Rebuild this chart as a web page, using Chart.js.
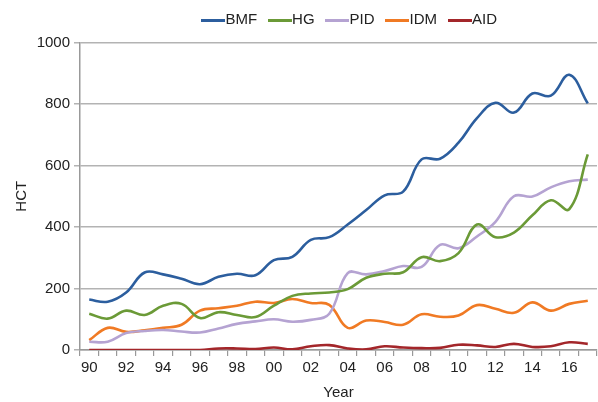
<!DOCTYPE html>
<html><head><meta charset="utf-8">
<script src="https://cdn.jsdelivr.net/npm/chart.js@4.4.1/dist/chart.umd.min.js"></script>
<style>html,body{margin:0;padding:0;background:#fff}#wrap{width:598px;height:402px}</style>
</head><body><div id="wrap"><canvas id="c" width="598" height="402"></canvas></div>
<script>
const years = ['90','91','92','93','94','95','96','97','98','99','00','01','02','03','04','05','06','07','08','09','10','11','12','13','14','15','16','17'];
const BMF = [164,157,187,252,246,232,214,238,248,243,292,303,358,367,408,455,503,515,620,622,674,754,804,772,834,827,895,802];
const HG  = [118,102,128,114,144,150,104,123,114,107,144,176,184,187,198,235,248,253,302,289,315,408,367,382,438,487,458,636];
const PID = [27,27,55,62,65,60,57,70,85,93,100,92,98,118,250,246,257,273,270,342,331,369,417,500,499,529,549,554];
const IDM = [32,72,59,64,72,82,128,136,144,157,153,166,153,147,72,96,91,82,116,108,112,146,134,121,155,128,150,160];
const AID = [0,0,0,0,0,0,0,5,5,3,8,2,12,16,5,2,12,8,6,7,17,15,10,20,10,12,25,20];
const yTicks = [0,200,400,600,800,1000];

const font = {family:'"Liberation Sans", Arial, sans-serif', size:15};
Chart.defaults.font = font;
Chart.defaults.color = '#222';

function lineImg(color){
  const c = document.createElement('canvas');
  c.width = 24; c.height = 3;
  const g = c.getContext('2d'); g.fillStyle = color; g.fillRect(0,0,24,3);
  return c;
}
function ds(label, data, color){
  return {label, data, borderColor: color, backgroundColor: color, borderWidth: 2.6,
    pointRadius: 0, tension: 0.4, fill: false};
}
const shiftLegend = {
  id: 'shiftLegend',
  afterLayout(chart){
    const l = chart.legend;
    if (l){ l.left += 54; l.right += 54; l.top -= 5; l.bottom -= 5; }
  }
};
new Chart(document.getElementById('c'), {
  type: 'line',
  data: {labels: years, datasets: [
    ds('BMF', BMF, '#2c5e9e'),
    ds('HG', HG, '#6b9a37'),
    ds('PID', PID, '#b5a3d2'),
    ds('IDM', IDM, '#f07a24'),
    ds('AID', AID, '#a3262a')
  ]},
  plugins: [shiftLegend],
  options: {
    responsive: false, animation: false,
    layout: {padding: {left: 0, right: 1, top: 0, bottom: 0}},
    plugins: {
      tooltip: {enabled: false},
      legend: {position: 'top', labels: {
        usePointStyle: true, pointStyleWidth: 10, boxHeight: 3, padding: 17.5, font: font,
        generateLabels: (chart) => Chart.defaults.plugins.legend.labels.generateLabels(chart).map(l =>
          Object.assign(l, {lineWidth: 0, rotation: 0, pointStyle: lineImg(l.strokeStyle)}))
      }}
    },
    scales: {
      x: {
        offset: true,
        grid: {offset: true, drawOnChartArea: false, tickLength: 6, color: '#999', lineWidth: 1.2},
        border: {color: '#999', width: 1.5},
        ticks: {autoSkip: false, maxRotation: 0, padding: 3, font: font,
          callback: function(v, i){ return i % 2 === 0 ? years[i] : ''; }},
        title: {display: true, text: 'Year', font: font, padding: {top: 4, bottom: 0}},
        afterFit: s => { s.height = 52; }
      },
      y: {
        min: 0, max: 1000,
        afterBuildTicks: s => { s.ticks = yTicks.map(v => ({value: v})); },
        grid: {color: '#b3b3b3', lineWidth: 1.5, tickLength: 6},
        border: {color: '#999', width: 1.5},
        ticks: {padding: 4, font: font, callback: v => String(v)},
        title: {display: true, text: 'HCT', font: font, padding: {top: 13, bottom: 4}},
        afterFit: s => { s.width = 80; }
      }
    }
  }
});
</script></body></html>
